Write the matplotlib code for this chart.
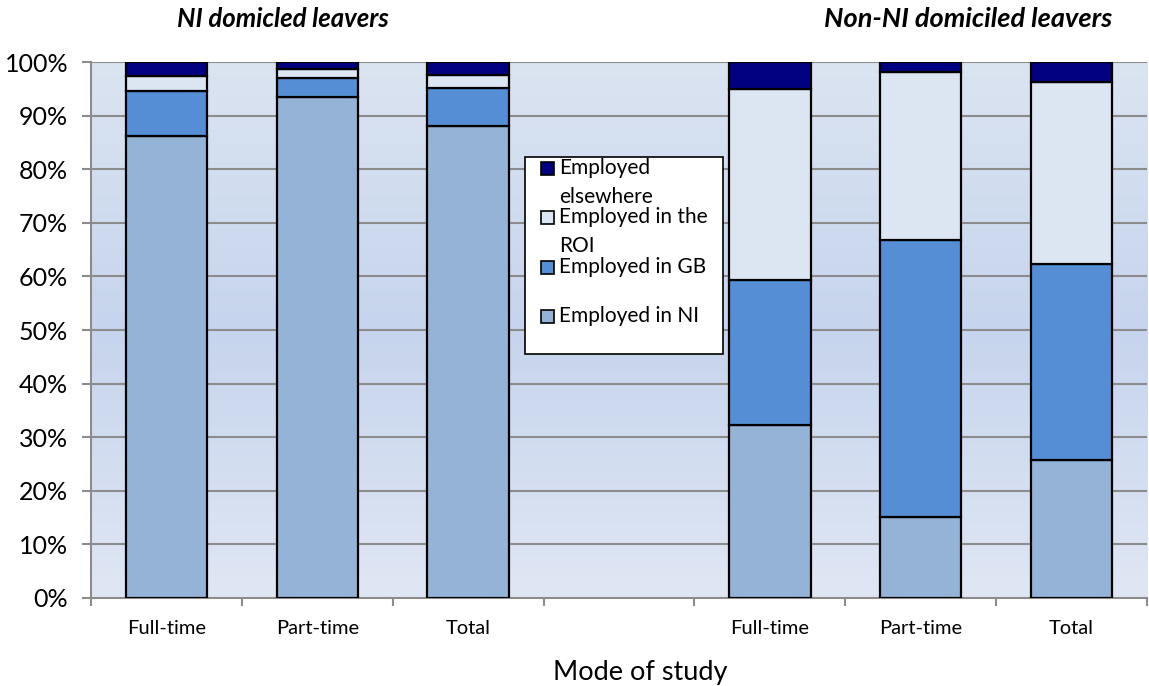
import matplotlib.pyplot as plt
import numpy as np
from matplotlib.colors import LinearSegmentedColormap
from matplotlib.patches import Rectangle

plt.rcParams['font.family'] = ['Lato', 'DejaVu Sans']

# Data (percent of employed leavers), two groups of three bars with a gap slot between
modes = ['Full-time', 'Part-time', 'Total', 'Full-time', 'Part-time', 'Total']
positions = [0, 1, 2, 4, 5, 6]
employed_ni = [86.2, 93.5, 88.0, 32.3, 15.2, 25.7]
employed_gb = [8.3, 3.6, 7.1, 27.0, 51.5, 36.6]
employed_roi = [2.8, 1.6, 2.5, 35.7, 31.4, 33.9]
employed_elsewhere = [2.7, 1.3, 2.4, 5.0, 1.9, 3.8]

series = [
    ('Employed in NI', employed_ni, '#95b3d7'),
    ('Employed in GB', employed_gb, '#558ed5'),
    ('Employed in the\nROI', employed_roi, '#dce6f2'),
    ('Employed\nelsewhere', employed_elsewhere, '#000080'),
]

fig = plt.figure(figsize=(11.49, 6.86), dpi=100)
ax = fig.add_axes([0.0792, 0.1283, 0.9191, 0.7813])

# gradient plot area
grad = LinearSegmentedColormap.from_list('bg', ['#e0e7f4', '#c6d4ed', '#dbe4f1'])
ax.imshow(np.linspace(0, 1, 256).reshape(-1, 1), cmap=grad, aspect='auto',
          extent=[-0.5, 6.5, 0, 100], origin='lower', zorder=0)

for y in range(10, 101, 10):
    ax.axhline(y, color='#8c8c8c', lw=1.5, zorder=1)

bottom = np.zeros(len(positions))
for label, vals, color in series:
    ax.bar(positions, vals, width=0.54, bottom=bottom, color=color,
           edgecolor='black', linewidth=1.6, zorder=3)
    bottom += np.array(vals)

ax.set_xlim(-0.5, 6.5)
ax.set_ylim(0, 100)
ax.set_yticks(range(0, 101, 10))
ax.set_yticklabels([f'{v}%' for v in range(0, 101, 10)], fontsize=18)
ax.set_xticks(positions)
ax.set_xticklabels(modes, fontsize=14.5)
ax.set_xticks(np.arange(-0.5, 7, 1), minor=True)
ax.tick_params(axis='x', which='major', length=0, pad=16)
ax.tick_params(axis='x', which='minor', length=6, color='#8c8c8c', width=1.5)
ax.tick_params(axis='y', length=6.5, color='#8c8c8c', width=1.5, pad=10)

for s in ['top', 'right']:
    ax.spines[s].set_visible(False)
for s in ['left', 'bottom']:
    ax.spines[s].set_color('#8c8c8c')
    ax.spines[s].set_linewidth(1.5)

fig.text(0.557, 0.0204, 'Mode of study', ha='center', va='center', fontsize=19.5)
fig.text(0.246, 0.99, 'NI domicled leavers', ha='center', va='top',
         fontsize=18.5, fontweight='bold', style='italic')
fig.text(0.8425, 0.99, 'Non-NI domiciled leavers', ha='center', va='top',
         fontsize=19.5, fontweight='bold', style='italic')

# legend box drawn in figure pixels
W, H = 1149, 686
fig.patches.append(Rectangle((525 / W, 1 - 354 / H), 198 / W, 197 / H,
                             transform=fig.transFigure, facecolor='white',
                             edgecolor='black', linewidth=1.2, zorder=5))
for i, (label, vals, color) in enumerate(series[::-1]):
    yc = 168 + i * 49.3
    fig.patches.append(Rectangle((541 / W, 1 - (yc + 7) / H), 13 / W, 13 / H,
                                 transform=fig.transFigure, facecolor=color,
                                 edgecolor='black', linewidth=1.2, zorder=6))
    for j, line in enumerate(label.split('\n')):
        fig.text(559 / W, 1 - (yc + j * 29) / H, line, ha='left', va='center',
                 fontsize=15, zorder=7)

fig.savefig('out.png', dpi=100)
